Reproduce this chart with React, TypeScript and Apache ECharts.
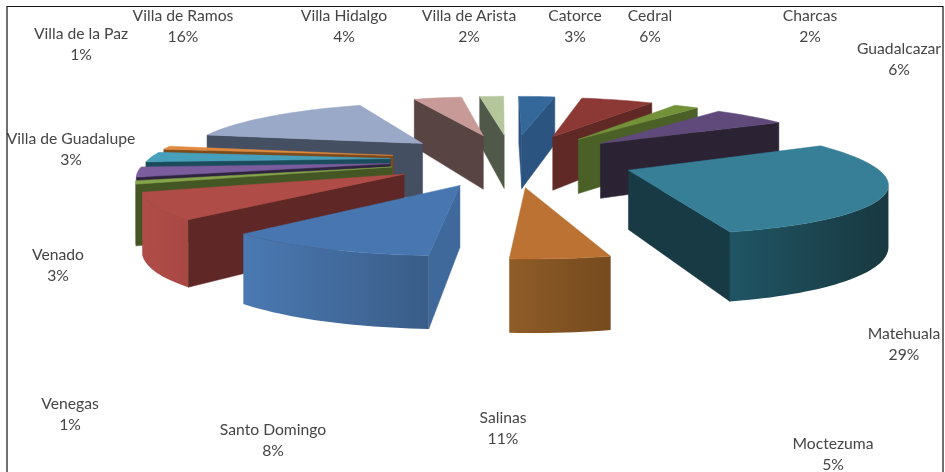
import React, { useEffect, useRef } from "react";
import * as echarts from "echarts";

const categories = ["Catorce","Cedral","Charcas","Guadalcazar","Matehuala","Moctezuma","Salinas","Santo Domingo","Venegas","Venado","Villa de Guadalupe","Villa de la Paz","Villa de Ramos","Villa Hidalgo","Villa de Arista"];
const values = [3,6,2,6,29,5,11,8,1,3,3,1,16,4,2];

const topColors = ["#35689a","#8c3835","#739139","#604a7b","#367f97","#bb7232","#4876b0","#b04c48","#86a44a","#7b5c9c","#46a0bb","#e08a3f","#9aa9c8","#c79a98","#b5c69c"];
const sideColors = ["#2c5480","#602925","#4a6027","#2b2233","#183a44","#7d5023","#3f689b","#5f2725","#435623","#2f2440","#1b4c5c","#7b4b1d","#454f62","#584443","#50584a"];
const wallFrom = ["#2c5480","#602925","#4a6027","#2b2233","#205565","#8f5c28","#4a79b2","#b04c48","#435623","#6b5088","#1b4c5c","#7b4b1d","#454f62","#584443","#50584a"];
const wallTo = ["#2c5480","#602925","#4a6027","#2b2233","#18383f","#754a1e","#3a5d88","#a84844","#435623","#5b4378","#1b4c5c","#7b4b1d","#454f62","#584443","#50584a"];

const labelX = [575,650,810,899,904,833,503,273,70,58,71,81,183,344,469];
const labelY = [15,15,15,48,333,443,417,429,403,254,138,33,15,15,15];

// perspective camera over the pie plane (radius 1)
const CAM = { x0: 512, skew: -1.5, F: 1390, cu: 5.75, H: -185, G: 2325, c: 6.75, depth: 0.167, explode: 0.515, explodeX: 0.98 };

function project(X: number, Y: number, bottom: boolean): number[] {
  const d = CAM.c + Y;
  const v = CAM.H + CAM.G / d;
  return [CAM.x0 + CAM.skew * Y + (CAM.F * X) / (CAM.cu + Y), bottom ? v + CAM.depth * (v - CAM.H) : v];
}

const total = values.reduce((a, b) => a + b, 0);
let acc = 0;
const sliceRows = values.map((v, i) => {
  const row = [acc, acc + v, i];
  acc += v;
  return row;
});
const toAngle = (p: number) => (p / total) * Math.PI * 2;
const midCos = (r: number[]) => Math.cos(toAngle((r[0] + r[1]) / 2));
const drawOrder = [...sliceRows].sort((a, b) => midCos(b) - midCos(a));

function renderSlice(_: any, api: any) {
  const a0 = toAngle(api.value(0));
  const a1 = toAngle(api.value(1));
  const i = api.value(2);
  const mid = (a0 + a1) / 2;
  const ox = CAM.explode * CAM.explodeX * Math.sin(mid);
  const oy = CAM.explode * Math.cos(mid);
  const n = Math.max(2, Math.ceil((a1 - a0) / 0.03));
  const ring: number[][] = [];
  for (let k = 0; k <= n; k++) {
    const a = a0 + ((a1 - a0) * k) / n;
    ring.push([ox + Math.sin(a), oy + Math.cos(a)]);
  }
  const top = (p: number[]) => project(p[0], p[1], false);
  const bot = (p: number[]) => project(p[0], p[1], true);
  const apex = [ox, oy];
  const children: any[] = [];
  const flat = (fill: any, pts: number[][]) =>
    children.push({ type: "polygon", shape: { points: pts }, style: { fill, stroke: typeof fill === "string" ? fill : "none", lineWidth: 0.5 } });

  const first = ring[0];
  const last = ring[ring.length - 1];
  if (top(first)[0] < top(apex)[0]) flat(sideColors[i], [top(apex), top(first), bot(first), bot(apex)]);
  if (top(apex)[0] < top(last)[0]) flat(sideColors[i], [top(last), top(apex), bot(apex), bot(last)]);

  const front = ring.filter((p, k) => k < ring.length - 1 && top(ring[k + 1])[0] < top(p)[0]);
  if (front.length) {
    const kLast = ring.indexOf(front[front.length - 1]) + 1;
    const seq = [...front, ring[kLast]];
    flat(
      new echarts.graphic.LinearGradient(0, 0, 1, 0, [
        { offset: 0, color: wallFrom[i] },
        { offset: 1, color: wallTo[i] },
      ]),
      [...seq.map(top), ...seq.slice().reverse().map(bot)]
    );
  }
  flat(topColors[i], [top(apex), ...ring.map(top)]);
  return { type: "group", children };
}

const labelFont = "Lato, 'Noto Sans', sans-serif";

export default function App() {
  const ref = useRef<HTMLDivElement>(null);
  useEffect(() => {
    const chart = echarts.init(ref.current!, undefined, { renderer: "svg" });
    chart.setOption({
      animation: false,
      backgroundColor: "#ffffff",
      series: [
        {
          type: "custom",
          coordinateSystem: "none",
          renderItem: renderSlice,
          data: drawOrder,
          silent: true,
          clip: false,
        },
      ],
      graphic: [
        ...categories.map((name, i) => ({
          type: "text",
          x: labelX[i],
          y: labelY[i] - 10,
          z: 5,
          style: {
            text: `${name}\n${values[i]}%`,
            textAlign: "center",
            textVerticalAlign: "top",
            font: `15.7px ${labelFont}`,
            lineHeight: 20.5,
            fill: "#454545",
          },
        })),
        { type: "rect", z: 6, shape: { x: 0, y: 0, width: 7, height: 472 }, style: { fill: "#ffffff" } },
        { type: "polyline", z: 7, shape: { points: [[7, 472], [7, 6.5], [943, 6.5], [943, 472]] }, style: { stroke: "#111111", lineWidth: 1.2, fill: "none" } },
      ],
    });
    return () => chart.dispose();
  }, []);
  return <div ref={ref} style={{ position: "fixed", left: 0, top: 0, width: 945, height: 472, filter: "blur(0.4px)" }} />;
}
